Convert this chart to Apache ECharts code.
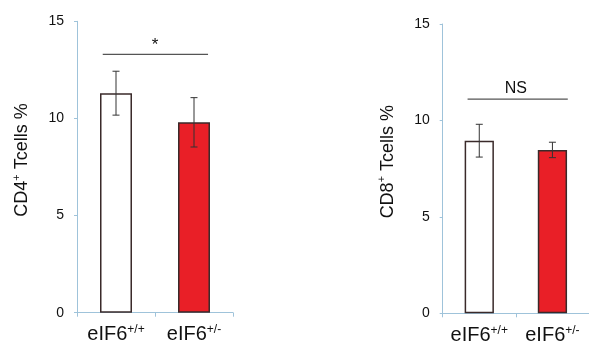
<!DOCTYPE html>
<html>
<head>
<meta charset="utf-8">
<script src="https://cdn.jsdelivr.net/npm/echarts@6/dist/echarts.min.js"></script>
<style>html,body{margin:0;padding:0;background:#fff}#c{width:589px;height:346px}</style>
</head>
<body>
<div id="c"></div>
<script>
// ---- data ----
const categories = ['eIF6+/+', 'eIF6+/-'];
const cd4Means = [11.3, 9.8];
const cd4Errors = [1.13, 1.27];
const cd8Means = [8.95, 8.47];
const cd8Errors = [0.85, 0.40];
const yTicks = [0, 5, 10, 15];
const sigLeft = { from: 0, to: 1, y: 13.3, text: '*' };
const sigRight = { from: 0, to: 1, y: 11.1, text: 'NS' };
const barColors = ['#ffffff', '#e91f27'];

const FONT = 'Liberation Sans, Arial, sans-serif';
const axisBlue = '#9fc3da';

function errData(means, errs) {
  return means.map((m, i) => [i, m, m + errs[i], m - errs[i]]);
}
function errRender(params, api) {
  const x = api.value(0);
  const hi = api.coord([x, api.value(2)]);
  const lo = api.coord([x, api.value(3)]);
  const w = 3.5;
  const st = { stroke: '#333', lineWidth: 1 };
  return { type: 'group', children: [
    { type: 'line', shape: { x1: hi[0], y1: hi[1], x2: lo[0], y2: lo[1] }, style: st },
    { type: 'line', shape: { x1: hi[0] - w, y1: hi[1], x2: hi[0] + w, y2: hi[1] }, style: st },
    { type: 'line', shape: { x1: lo[0] - w, y1: lo[1], x2: lo[0] + w, y2: lo[1] }, style: st }
  ]};
}
function sigRenderFactory(leftFrac, rightFrac, textSize, textBold, textGap) {
  return function (params, api) {
    const a = api.coord([api.value(0), api.value(2)]);
    const b = api.coord([api.value(1), api.value(2)]);
    const band = api.size([1, 0])[0];
    const x1 = a[0] - leftFrac * band, x2 = b[0] + rightFrac * band;
    return { type: 'group', children: [
      { type: 'line', shape: { x1: x1, y1: a[1], x2: x2, y2: a[1] }, style: { stroke: '#555', lineWidth: 1.2 } },
      { type: 'text', style: { text: api.value(3), x: (a[0] + b[0]) / 2, y: a[1] - textGap,
        align: 'center', verticalAlign: 'bottom', fill: '#111',
        font: (textBold ? 'bold ' : '') + textSize + 'px ' + FONT } }
    ]};
  };
}
function catLabel(v) {
  const base = v.slice(0, 4), sup = v.slice(4);
  return '{b|' + base + '}{s|' + sup + '}';
}
function yAxis(gridIndex, nameRich) {
  return {
    gridIndex: gridIndex, type: 'value', min: yTicks[0], max: yTicks[yTicks.length - 1], interval: 5,
    name: nameRich, nameLocation: 'middle', nameGap: 44, nameRotate: 90,
    nameTextStyle: { padding: [0, 0, 0, 14], rich: {
      a: { fontSize: 18, fontFamily: FONT, color: '#111', verticalAlign: 'middle', lineHeight: 22 },
      s: { fontSize: 11, fontFamily: FONT, color: '#111', verticalAlign: 'top', lineHeight: 22 }
    } },
    axisLine: { show: true, lineStyle: { color: axisBlue, width: 1 } },
    axisTick: { show: true, length: 3, lineStyle: { color: axisBlue } },
    splitLine: { show: false },
    axisLabel: { margin: 13, fontSize: 14, fontFamily: FONT, color: '#111' }
  };
}
function xAxis(gridIndex) {
  return {
    gridIndex: gridIndex, type: 'category', data: categories,
    axisLine: { show: true, lineStyle: { color: axisBlue, width: 1 } },
    axisTick: { show: true, length: 4, lineStyle: { color: axisBlue } },
    axisLabel: { interval: 0, margin: 11, formatter: catLabel, rich: {
      b: { fontSize: 20, fontFamily: FONT, color: '#111', verticalAlign: 'middle', lineHeight: 22 },
      s: { fontSize: 12, fontFamily: FONT, color: '#111', verticalAlign: 'top', lineHeight: 22 }
    } }
  };
}
function barData(means) {
  return means.map((m, i) => ({ value: m, itemStyle: { color: barColors[i] } }));
}

const chart = echarts.init(document.getElementById('c'), null, { renderer: 'canvas' });
chart.setOption({
  backgroundColor: '#ffffff',
  animation: false,
  grid: [
    { left: 77, top: 21.3, width: 156, bottom: 33.3 },
    { left: 442.7, top: 24, width: 153.3, bottom: 32.7 }
  ],
  xAxis: [xAxis(0), xAxis(1)],
  yAxis: [yAxis(0, '{a|CD4}{s|+}{a| Tcells %}'), yAxis(1, '{a|CD8}{s|+}{a| Tcells %}')],
  series: [
    { type: 'bar', xAxisIndex: 0, yAxisIndex: 0, barWidth: '41%', data: barData(cd4Means),
      itemStyle: { borderColor: '#3a2a2a', borderWidth: 1.5 } },
    { type: 'bar', xAxisIndex: 1, yAxisIndex: 1, barWidth: '40%', data: barData(cd8Means),
      itemStyle: { borderColor: '#3a2a2a', borderWidth: 1.5 } },
    { type: 'custom', xAxisIndex: 0, yAxisIndex: 0, data: errData(cd4Means, cd4Errors),
      encode: { x: 0, y: [1, 2, 3] }, renderItem: errRender, z: 5 },
    { type: 'custom', xAxisIndex: 1, yAxisIndex: 1, data: errData(cd8Means, cd8Errors),
      encode: { x: 0, y: [1, 2, 3] }, renderItem: errRender, z: 5 },
    { type: 'custom', xAxisIndex: 0, yAxisIndex: 0, data: [[sigLeft.from, sigLeft.to, sigLeft.y, sigLeft.text]],
      dimensions: ['a', 'b', 'y', { name: 't', type: 'ordinal' }],
      encode: { x: [0, 1], y: 2 }, renderItem: sigRenderFactory(0.17, 0.18, 17, false, 1), z: 5 },
    { type: 'custom', xAxisIndex: 1, yAxisIndex: 1, data: [[sigRight.from, sigRight.to, sigRight.y, sigRight.text]],
      dimensions: ['a', 'b', 'y', { name: 't', type: 'ordinal' }],
      encode: { x: [0, 1], y: 2 }, renderItem: sigRenderFactory(0.16, 0.21, 16, false, 3), z: 5 }
  ]
});
</script>
</body>
</html>
